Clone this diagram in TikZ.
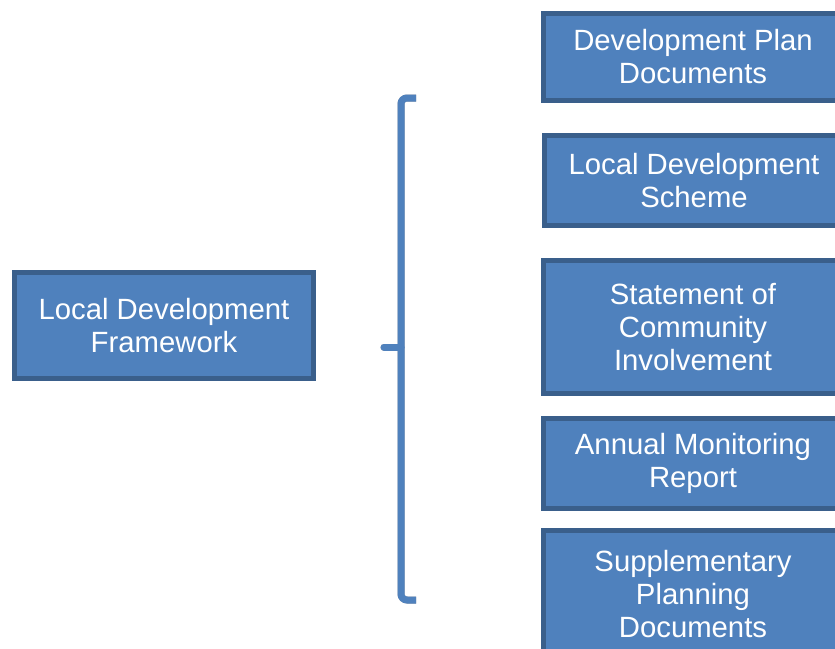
\documentclass[tikz,border=0pt]{standalone}
\usepackage{fontspec}
\setmainfont{Liberation Sans}
\definecolor{boxfill}{HTML}{4F81BD}
\definecolor{boxline}{HTML}{3A5F8B}
\definecolor{shadowgray}{HTML}{A6A6A6}
\begin{document}
\begin{tikzpicture}[x=1pt,y=-1pt,
  docbox/.style={draw=boxline, fill=boxfill, line width=5pt, inner sep=0pt, outer sep=0pt,
    minimum width=299pt, text=white, align=center,
    font=\fontsize{29.3}{33}\selectfont},
  bracketline/.style={line width=7pt, rounded corners=6pt, line cap=butt}]
\useasboundingbox (0,0) rectangle (835,648);
\fill[white] (0,0) rectangle (835,648);
\clip (0,0) rectangle (835,648);

% left box
\node[docbox, minimum height=106pt] (ldf) at (164,325.5) {Local Development\\Framework};

% right column of boxes
\node[docbox, minimum height=87pt]  (dpd) at (693,57)    {Development Plan\\Documents};
\node[docbox, minimum height=90pt]  (lds) at (694,180.5) {Local Development\\Scheme};
\node[docbox, minimum height=133pt] (sci) at (693,327)   {Statement of\\Community\\Involvement};
\node[docbox, minimum height=90pt]  (amr) at (693,463.5) {Annual Monitoring\\Report};
\node[docbox, minimum height=127pt] (spd) at (693,594)   {Supplementary\\Planning\\Documents};

% bracket with its soft shadow
\coordinate (btop) at (416,98);
\coordinate (bbot) at (416,600);
\coordinate (bmid) at (401,347);
\coordinate (bstub) at (384,347);
\begin{scope}[shift={(2,3)}]
  \draw[bracketline, draw=shadowgray] (btop) -| (bmid) |- (bbot);
  \draw[line width=7pt, draw=shadowgray, line cap=round] (bmid) -- (bstub);
\end{scope}
\draw[bracketline, draw=boxfill] (btop) -| (bmid) |- (bbot);
\draw[line width=7pt, draw=boxfill, line cap=round] (bmid) -- (bstub);
\end{tikzpicture}
\end{document}
